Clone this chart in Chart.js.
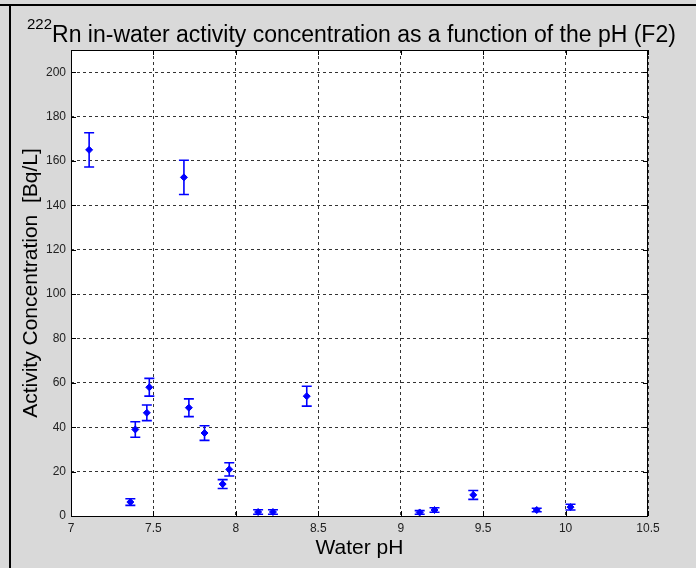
<!DOCTYPE html>
<html>
<head>
<meta charset="utf-8">
<script src="https://cdn.jsdelivr.net/npm/chart.js@4.4.1/dist/chart.umd.min.js"></script>
<style>
  html, body { margin: 0; padding: 0; background: #d9d9d9; }
  canvas { display: block; }
</style>
</head>
<body>
<canvas id="graph" width="696" height="568"></canvas>
<script>
Chart.defaults.font.family = 'Arial, "Liberation Sans", sans-serif'

// water pH of each sample
const ph = [7.11, 7.36, 7.39, 7.46, 7.475, 7.685, 7.715, 7.81, 7.92, 7.96, 8.135, 8.225, 8.43, 9.115, 9.205, 9.44, 9.825, 10.03]
// 222Rn activity concentration [Bq/L]
const conc = [165, 6.3, 39, 46.5, 58, 152.6, 48.8, 37.4, 14.4, 21, 1.8, 1.8, 54, 1.6, 2.7, 9.5, 2.7, 4]
// uncertainty (+/-)
const err = [7.7, 1.5, 3.5, 3.5, 4, 7.7, 4, 3.3, 2, 3, 1, 1, 4.5, 0.8, 1, 2, 0.8, 1.3]

const xTicks = [7, 7.5, 8, 8.5, 9, 9.5, 10, 10.5]
const yTicks = [0, 20, 40, 60, 80, 100, 120, 140, 160, 180, 200]

// grey figure background with black frame, title with superscript
const figure = {
  id: 'figure',
  beforeDraw(chart) {
    const { ctx, width, height } = chart
    ctx.save()
    ctx.fillStyle = '#d9d9d9'
    ctx.fillRect(0, 0, width, height)
    ctx.fillStyle = '#000'
    ctx.fillRect(0, 4, width, 2)
    ctx.fillRect(9, 4, 2, height)
    const { left, top, right, bottom } = chart.chartArea
    ctx.fillStyle = '#fff'
    ctx.fillRect(left, top, right - left, bottom - top)

    ctx.fillStyle = '#000'
    ctx.textBaseline = 'alphabetic'
    ctx.font = '15px Arial, "Liberation Sans", sans-serif'
    ctx.fillText('222', 27, 29)
    const w = ctx.measureText('222').width
    ctx.font = '23px Arial, "Liberation Sans", sans-serif'
    ctx.fillText('Rn in-water activity concentration as a function of the pH (F2)', 27 + w, 42)
    ctx.restore()
  }
}

// error bars, plot box and inward tick marks
const errorBars = {
  id: 'errorBars',
  afterDatasetsDraw(chart) {
    const { ctx, chartArea: { left, top, right, bottom }, scales: { x, y } } = chart
    ctx.save()
    ctx.strokeStyle = '#0000ff'
    ctx.lineWidth = 1.6
    ph.forEach((v, i) => {
      const px = x.getPixelForValue(v)
      const y1 = y.getPixelForValue(conc[i] + err[i])
      const y2 = y.getPixelForValue(conc[i] - err[i])
      ctx.beginPath()
      ctx.moveTo(px, y1)
      ctx.lineTo(px, y2)
      ctx.moveTo(px - 5, y1)
      ctx.lineTo(px + 5, y1)
      ctx.moveTo(px - 5, y2)
      ctx.lineTo(px + 5, y2)
      ctx.stroke()
    })

    ctx.strokeStyle = '#000'
    ctx.lineWidth = 1
    ctx.strokeRect(left + 0.5, top + 0.5, right - left - 1, bottom - top)
    ctx.beginPath()
    xTicks.forEach(v => {
      const px = Math.round(x.getPixelForValue(v)) + 0.5
      ctx.moveTo(px, bottom)
      ctx.lineTo(px, bottom - 5)
      ctx.moveTo(px, top)
      ctx.lineTo(px, top + 5)
    })
    yTicks.forEach(v => {
      const py = Math.round(y.getPixelForValue(v)) + 0.5
      ctx.moveTo(left, py)
      ctx.lineTo(left + 5, py)
      ctx.moveTo(right, py)
      ctx.lineTo(right - 5, py)
    })
    ctx.stroke()
    ctx.restore()
  }
}

new Chart(document.getElementById('graph'), {
  type: 'scatter',
  plugins: [figure, errorBars],
  data: {
    datasets: [
      {
        data: ph.map((v, i) => ({ x: v, y: conc[i] })),
        backgroundColor: '#0000ff',
        borderColor: '#0000ff',
        pointStyle: 'rectRot',
        pointRadius: 3.5,
        borderWidth: 1
      }
    ]
  },
  options: {
    responsive: false,
    animation: false,
    layout: { padding: { left: 0, top: 50, right: 48, bottom: 0 } },
    plugins: {
      legend: { display: false },
      tooltip: { enabled: false }
    },
    scales: {
      x: {
        type: 'linear',
        min: 7,
        max: 10.5,
        afterFit(scale) { scale.height = 52 },
        afterBuildTicks(scale) { scale.ticks = xTicks.map(v => ({ value: v })) },
        grid: { color: '#333', drawTicks: false },
        border: { display: false, dash: [3, 3] },
        ticks: { padding: 5, color: '#222', font: { size: 12 }, maxRotation: 0, callback: v => String(v) },
        title: { display: true, text: 'Water pH', color: '#000', font: { size: 21 }, padding: { top: 0, bottom: 7 } }
      },
      y: {
        min: 0,
        max: 210,
        afterFit(scale) { scale.width = 71 },
        afterBuildTicks(scale) { scale.ticks = yTicks.map(v => ({ value: v })) },
        grid: { color: '#333', drawTicks: false },
        border: { display: false, dash: [3, 3] },
        ticks: { padding: 5, color: '#222', font: { size: 12 }, callback: v => String(v) },
        title: { display: true, text: 'Activity Concentration  [Bq/L]', color: '#000', font: { size: 21 }, padding: { top: 19, bottom: 0 } }
      }
    }
  }
})
</script>
</body>
</html>
